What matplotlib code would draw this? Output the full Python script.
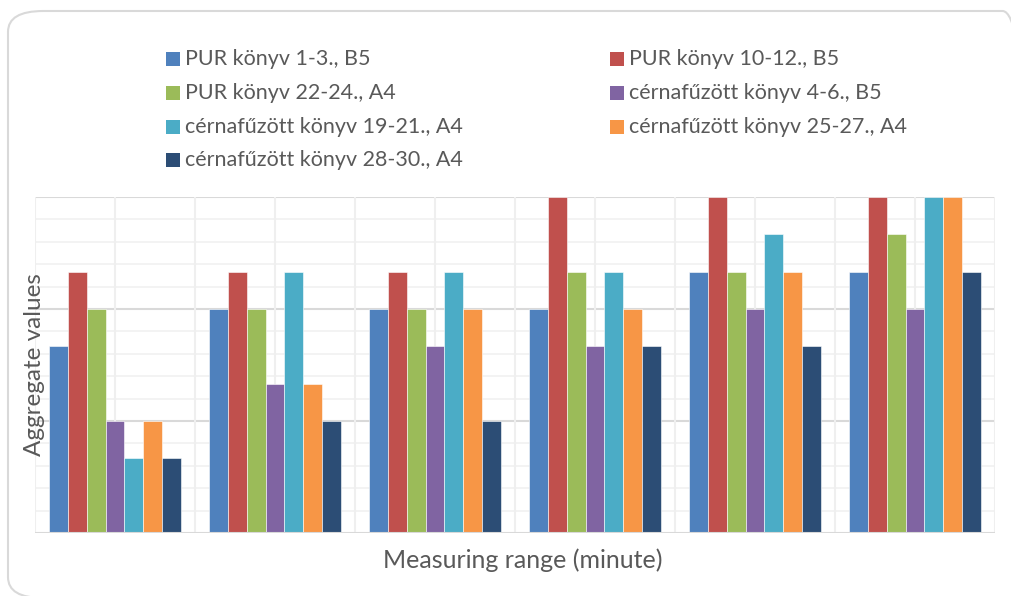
import numpy as np
import matplotlib
matplotlib.use("Agg")
import matplotlib.pyplot as plt
from matplotlib.patches import FancyBboxPatch, Rectangle

plt.rcParams['font.family'] = ['Lato', 'DejaVu Sans']

# data (bars at the top are cut by the axis limit)
groups = ['1', '2', '3', '4', '5', '6']
series_names = [
    'PUR könyv 1-3., B5',
    'PUR könyv 10-12., B5',
    'PUR könyv 22-24., A4',
    'cérnafűzött könyv 4-6., B5',
    'cérnafűzött könyv 19-21., A4',
    'cérnafűzött könyv 25-27., A4',
    'cérnafűzött könyv 28-30., A4',
]
pur_1_3 = [25, 30, 30, 30, 35, 35]
pur_10_12 = [35, 35, 35, 45, 45, 45]
pur_22_24 = [30, 30, 30, 35, 35, 40]
cerna_4_6 = [15, 20, 25, 25, 30, 30]
cerna_19_21 = [10, 35, 35, 35, 40, 45]
cerna_25_27 = [15, 20, 30, 30, 35, 45]
cerna_28_30 = [10, 15, 15, 25, 25, 35]
y_max = 45

all_series = [pur_1_3, pur_10_12, pur_22_24, cerna_4_6, cerna_19_21, cerna_25_27, cerna_28_30]
colors = ['#4F81BD', '#C0504D', '#9BBB59', '#8064A2', '#4BACC6', '#F79646', '#2C4D75']
text_col = '#595959'

W, H = 1011, 596
fig = plt.figure(figsize=(W / 100, H / 100), dpi=100)

# rounded chart border
border = FancyBboxPatch((8 / W, 1 - 598 / H), 1030 / W, 587 / H,
                        boxstyle='round,pad=0,rounding_size=0.035',
                        transform=fig.transFigure, facecolor='none',
                        edgecolor='#d9d9d9', linewidth=1.5, zorder=-1)
fig.patches.append(border)

ax = fig.add_axes([35 / W, 1 - 533 / H, 960 / W, 336 / H])
ax.set_facecolor('none')

x = np.arange(len(groups))
n = len(all_series)
bw = 0.825 / n
for i, (vals, c) in enumerate(zip(all_series, colors)):
    ax.bar(x - 0.825 / 2 + bw * (i + 0.5), vals, width=bw, color=c,
           edgecolor='white', linewidth=0.4, zorder=3)

ax.set_xlim(-0.5, len(groups) - 0.5)
ax.set_ylim(0, y_max)

# gridlines like the excel chart
for v in np.arange(3, y_max + 1, 3):
    major = v % 15 == 0
    ax.axhline(v, color='#d9d9d9' if major else '#f2f2f2',
               linewidth=1.5 if major else 1.3, zorder=1)
for xv in np.arange(-0.5, len(groups), 0.5):
    ax.axvline(xv, color='#efefef', linewidth=1.5, zorder=1)
ax.axhline(0, color='#d9d9d9', linewidth=1.5, zorder=4)

ax.set_xticks([])
ax.set_yticks([])
for s in ax.spines.values():
    s.set_visible(False)

ax.set_ylabel('Aggregate values', fontsize=17.5, color=text_col)
ax.yaxis.set_label_coords(0.01, 0.5)
ax.set_xlabel('Measuring range (minute)', fontsize=18, color=text_col)
ax.xaxis.set_label_coords(0.508, -0.045)

# legend in two columns, drawn by hand
col_x = [166, 610]
row_y = [59, 93, 127, 160]
sw = 14
for i, (name, c) in enumerate(zip(series_names, colors)):
    r, k = divmod(i, 2)
    x0 = col_x[k]
    y0 = row_y[r]
    fig.patches.append(Rectangle((x0 / W, 1 - (y0 + sw / 2) / H), sw / W, sw / H,
                                 transform=fig.transFigure, facecolor=c,
                                 edgecolor='none'))
    fig.text((x0 + sw + 5) / W, 1 - y0 / H, name, fontsize=15.5, color=text_col,
             va='center', ha='left')

fig.savefig('out.png', dpi=100)
